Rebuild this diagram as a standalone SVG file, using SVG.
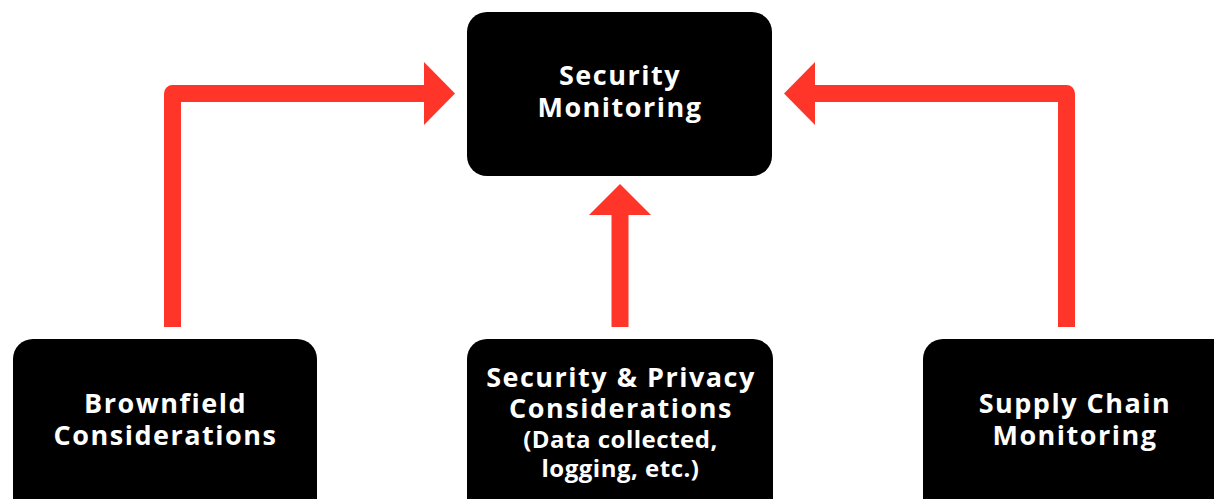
<svg xmlns="http://www.w3.org/2000/svg" width="1214" height="499" viewBox="0 0 1214 499">
<style>
.box{fill:#000}
.t{fill:#fff;font-family:"Open Sans","DejaVu Sans",sans-serif;font-weight:bold;font-size:27px;letter-spacing:1.5px;text-anchor:middle}
.s{font-size:24px;letter-spacing:0.5px}
.line{fill:none;stroke:#FF3529;stroke-width:17;stroke-linejoin:round}
.head{fill:#FF3529}
</style>
<rect width="1214" height="499" fill="#fff"/>
<g id="connectors">
<path class="line" d="M172.5 327 V93.5 H426"/>
<polygon class="head" points="424,62 455,93.5 424,125"/>
<path class="line" d="M1066.5 327 V93.5 H813"/>
<polygon class="head" points="815,62 784,93.5 815,125"/>
<path class="line" d="M620 327 V213"/>
<polygon class="head" points="589,215 620,184 651,215"/>
</g>
<g id="security-monitoring">
<rect class="box" x="467" y="12" width="305" height="164" rx="20"/>
<text class="t" x="620" y="85">Security</text>
<text class="t" x="620" y="117">Monitoring</text>
</g>
<g id="brownfield">
<rect class="box" x="13" y="339" width="304" height="180" rx="20"/>
<text class="t" x="165.5" y="413">Brownfield</text>
<text class="t" x="165.5" y="445">Considerations</text>
</g>
<g id="security-privacy">
<rect class="box" x="467" y="339" width="306" height="180" rx="20"/>
<text class="t" x="621" y="387">Security &amp; Privacy</text>
<text class="t" x="621" y="418">Considerations</text>
<text class="t s" x="620.5" y="448">(Data collected,</text>
<text class="t s" x="620.5" y="477">logging, etc.)</text>
</g>
<g id="supply-chain">
<rect class="box" x="923" y="339" width="310" height="180" rx="20"/>
<text class="t" x="1075" y="413">Supply Chain</text>
<text class="t" x="1075" y="445">Monitoring</text>
</g>
</svg>
